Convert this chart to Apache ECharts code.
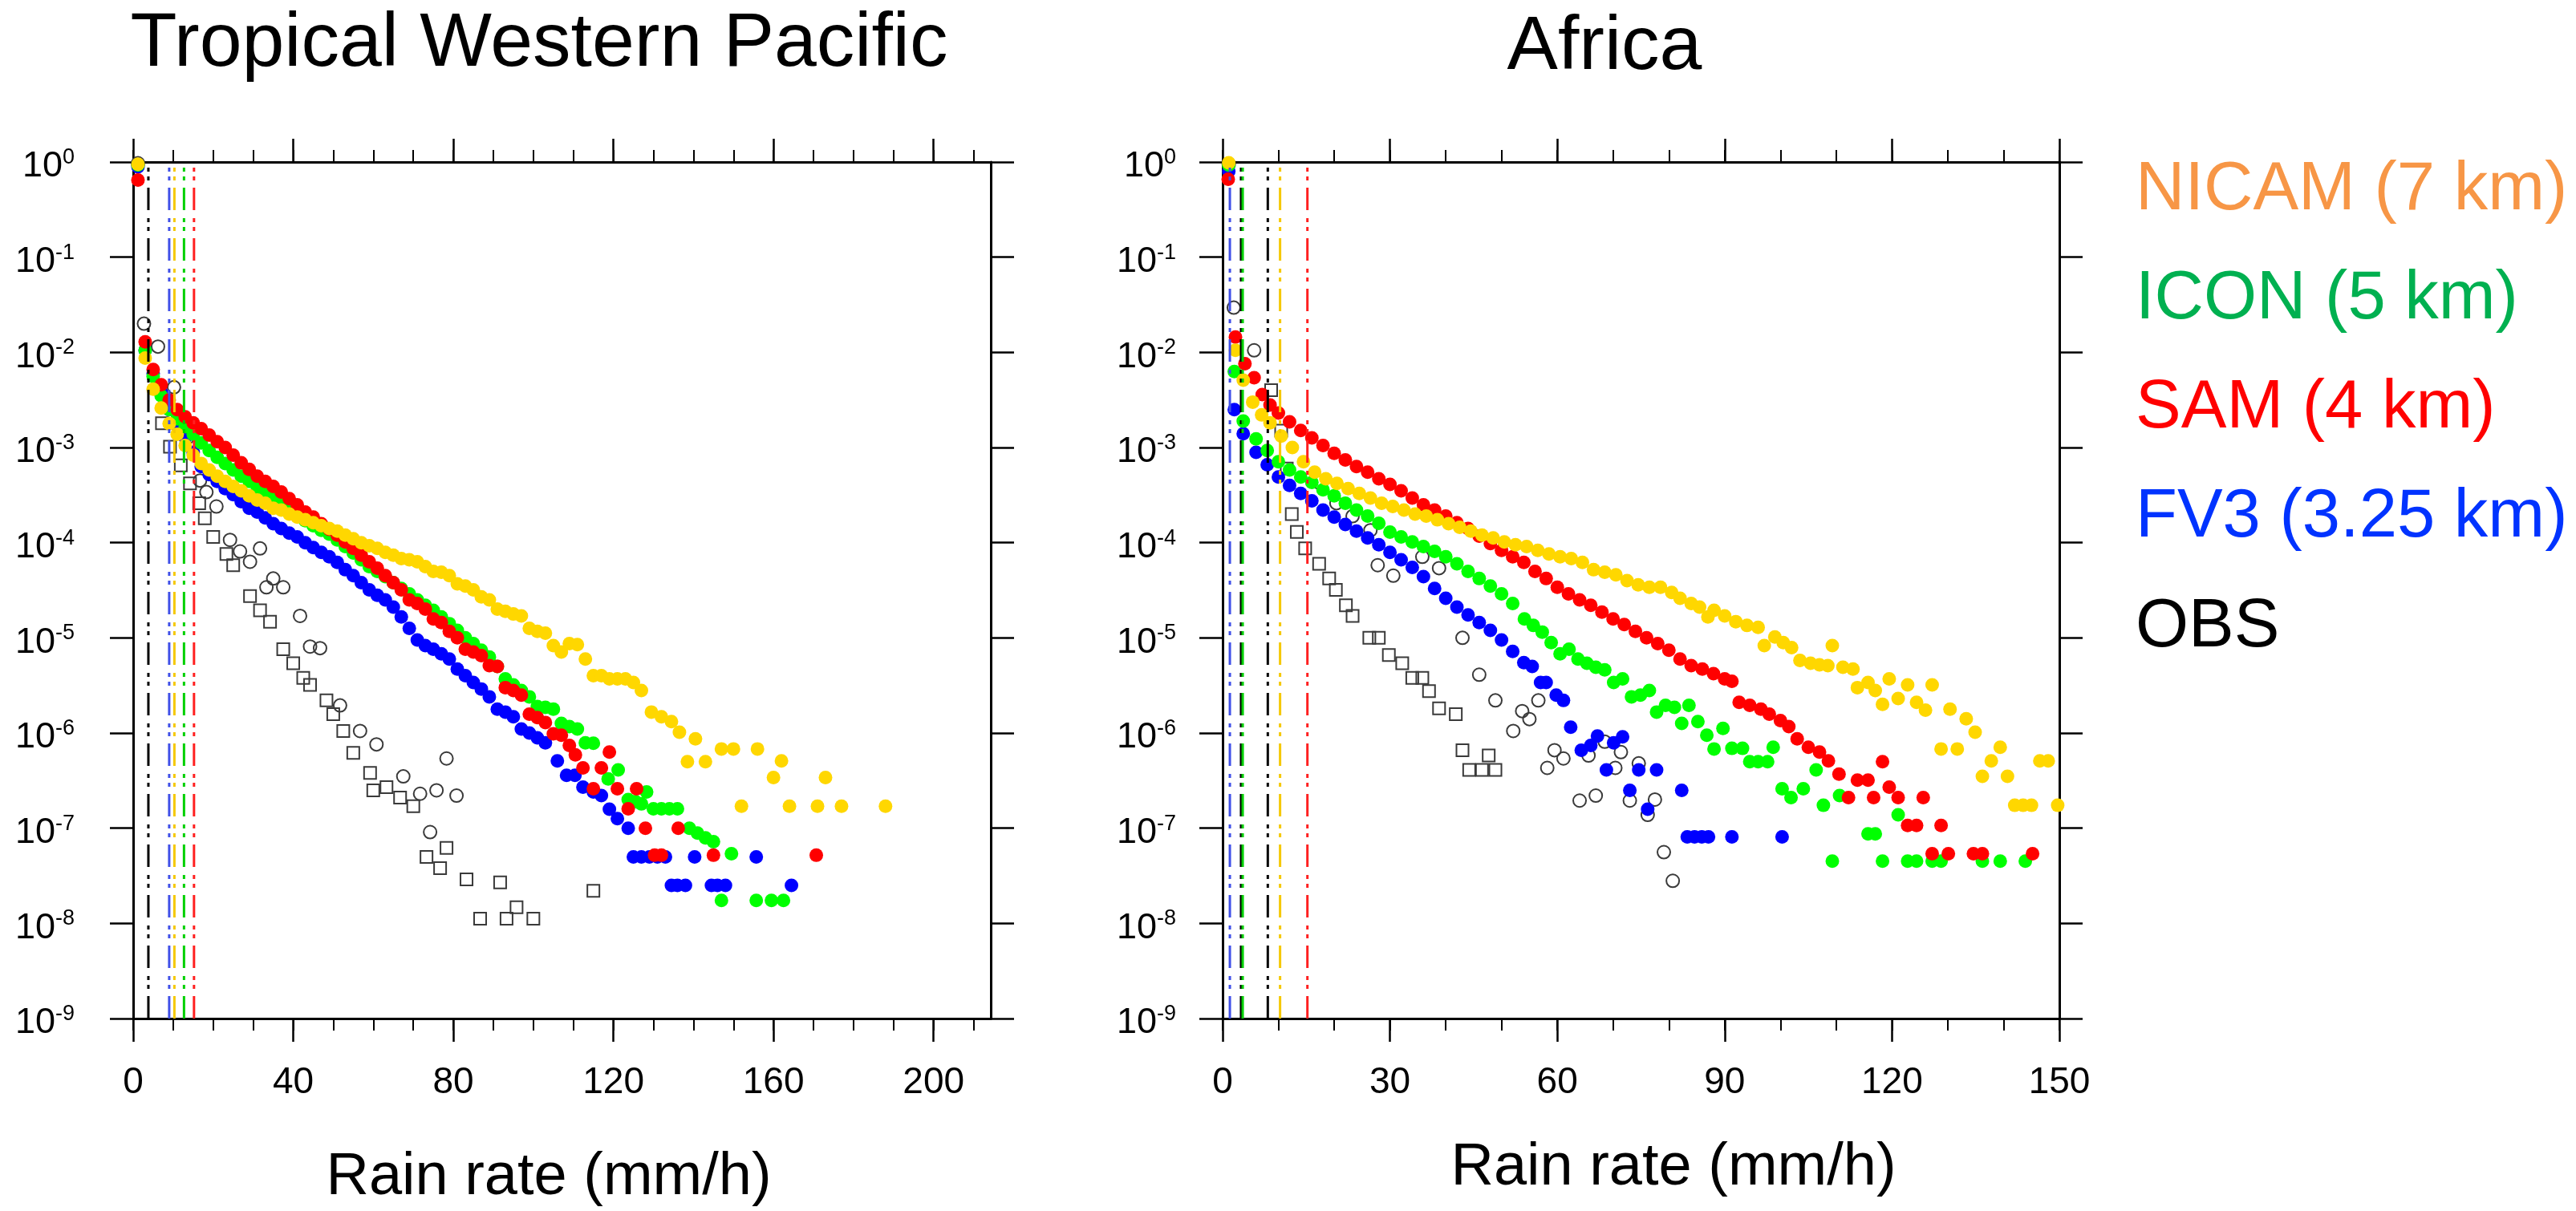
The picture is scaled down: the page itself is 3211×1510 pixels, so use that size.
<!DOCTYPE html>
<html>
<head>
<meta charset="utf-8">
<script src="https://cdn.jsdelivr.net/npm/echarts@6/dist/echarts.min.js"></script>
<style>html,body{margin:0;padding:0;background:#fff}#c{width:3211px;height:1510px}</style>
</head>
<body>
<div id="c"></div>
<script>
// ---------------- DATA ----------------
const panelTitles = ['Tropical Western Pacific', 'Africa'];
const xAxisTitle = 'Rain rate (mm/h)';
const legendNames = ['NICAM (7 km)', 'ICON (5 km)', 'SAM (4 km)', 'FV3 (3.25 km)', 'OBS'];

const twpTicks = [0, 40, 80, 120, 160, 200];
const twpMinorTicks = [0,10,20,30,40,50,60,70,80,90,100,110,120,130,140,150,160,170,180,190,200,210];
const afrTicks = [0, 30, 60, 90, 120, 150];
const afrMinorTicks = [0,10,20,30,40,50,60,70,80,90,100,110,120,130,140,150];

// vertical dash-dot lines [x, model]
const twpLines = [[3.8,'OBS'],[9.0,'FV3'],[10.3,'NICAM'],[12.7,'ICON'],[15.2,'SAM']];
const afrLines = [[1.3,'FV3'],[3.3,'OBS'],[3.6,'ICON'],[8.1,'OBS'],[10.3,'NICAM'],[15.2,'SAM']];

// Tropical Western Pacific  [rain rate, probability]
const twpNICAM = [[1.2,0.95],[3,8.7e-3],[5,4.1e-3],[7,2.6e-3],[9,1.78e-3],[11,1.38e-3],[13,1.05e-3],[15,8.3e-4],[17,6.8e-4],[19,5.8e-4],[21,5.0e-4],[23,4.4e-4],[25,3.9e-4],[27,3.5e-4],[29,3.1e-4],[31,2.8e-4],[33,2.6e-4],[35,2.3e-4],[37,2.2e-4],[39,2.0e-4],[41,1.86e-4],[43,1.74e-4],[45,1.62e-4],[47,1.51e-4],[49,1.41e-4],[51,1.32e-4],[53,1.2e-4],[55,1.1e-4],[57,1.0e-4],[59,9.3e-5],[61,8.7e-5],[63,7.9e-5],[65,7.4e-5],[67,6.8e-5],[69,6.6e-5],[71,6.3e-5],[73,5.6e-5],[75,5.0e-5],[77,4.9e-5],[79,4.5e-5],[81,3.7e-5],[83,3.5e-5],[85,3.2e-5],[87,2.7e-5],[89,2.5e-5],[91,2.0e-5],[93,1.9e-5],[95,1.78e-5],[97,1.7e-5],[99,1.26e-5],[101,1.17e-5],[103,1.12e-5],[105,8.3e-6],[107,7.1e-6],[109,8.7e-6],[111,8.5e-6],[113,6.0e-6],[115,4.0e-6],[117,4.0e-6],[119,3.7e-6],[121,3.7e-6],[123,3.7e-6],[125,3.4e-6],[127,2.8e-6],[129.5,1.66e-6],[132,1.48e-6],[134.5,1.32e-6],[136.5,1.02e-6],[138.5,5.0e-7],[140.5,8.7e-7],[143,5.0e-7],[147,6.8e-7],[150,6.8e-7],[152,1.7e-7],[156,6.8e-7],[160,3.4e-7],[162,5.1e-7],[164,1.7e-7],[171,1.7e-7],[173,3.4e-7],[177,1.7e-7],[188,1.7e-7]];
const twpICON = [[1.2,0.93],[3,1.05e-2],[5,5.6e-3],[7,3.5e-3],[9,2.5e-3],[11,2.0e-3],[13,1.66e-3],[15,1.38e-3],[17,1.12e-3],[19,9.3e-4],[21,7.9e-4],[23,6.8e-4],[25,5.8e-4],[27,5.0e-4],[29,4.4e-4],[31,3.8e-4],[33,3.3e-4],[35,2.9e-4],[37,2.5e-4],[39,2.2e-4],[41,1.9e-4],[43,1.7e-4],[45,1.51e-4],[47,1.35e-4],[49,1.23e-4],[51,1.07e-4],[53,9.1e-5],[55,7.8e-5],[57,6.6e-5],[59,5.6e-5],[61,5.0e-5],[63,4.4e-5],[65,3.8e-5],[67,3.3e-5],[69,2.9e-5],[71,2.5e-5],[73,2.2e-5],[75,1.95e-5],[77,1.66e-5],[79,1.41e-5],[81,1.2e-5],[83,1.0e-5],[85,8.7e-6],[87,7.4e-6],[89,6.3e-6],[91,5.0e-6],[93,3.7e-6],[95,3.2e-6],[97,2.8e-6],[99,2.4e-6],[101,1.9e-6],[103,1.86e-6],[105,1.78e-6],[107,1.26e-6],[109,1.17e-6],[111,1.1e-6],[113,7.9e-7],[115,7.8e-7],[118.7,3.3e-7],[121.2,4.1e-7],[123.7,2.0e-7],[125.5,1.9e-7],[127,1.8e-7],[128.3,2.4e-7],[130,1.6e-7],[132,1.6e-7],[134,1.6e-7],[136,1.6e-7],[139,1.0e-7],[141,8.9e-8],[143,7.9e-8],[145,7.2e-8],[147,1.74e-8],[149.5,5.4e-8],[155.7,1.74e-8],[159.5,1.74e-8],[162.5,1.74e-8]];
const twpSAM = [[1.2,0.646],[3,1.29e-2],[5,6.6e-3],[7,4.57e-3],[9,3.16e-3],[11,2.5e-3],[13,2.1e-3],[15,1.82e-3],[17,1.58e-3],[19,1.35e-3],[21,1.15e-3],[23,1.0e-3],[25,8.3e-4],[27,6.9e-4],[29,5.9e-4],[31,5.0e-4],[33,4.4e-4],[35,3.9e-4],[37,3.4e-4],[39,2.9e-4],[41,2.5e-4],[43,2.1e-4],[45,1.86e-4],[47,1.58e-4],[49,1.38e-4],[51,1.2e-4],[53,1.02e-4],[55,8.7e-5],[57,7.4e-5],[59,6.3e-5],[61,5.4e-5],[63,4.5e-5],[65,3.8e-5],[67,3.2e-5],[69,2.5e-5],[71,2.3e-5],[73,2.0e-5],[75,1.58e-5],[77,1.45e-5],[79,1.17e-5],[81,1.0e-5],[83,7.6e-6],[85,7.1e-6],[87,6.5e-6],[89,5.1e-6],[91,5.0e-6],[93,3.0e-6],[95,2.8e-6],[97,2.5e-6],[99,1.58e-6],[101,1.45e-6],[103,1.29e-6],[105,9.8e-7],[107,9.5e-7],[109,7.4e-7],[110.5,5.9e-7],[112.4,4.3e-7],[115,2.6e-7],[117,4.3e-7],[119,6.3e-7],[121,2.6e-7],[123.7,1.6e-7],[125.8,2.6e-7],[128,1.0e-7],[130.3,5.2e-8],[132,5.2e-8],[136.2,1.0e-7],[145,5.2e-8],[170.7,5.2e-8]];
const twpFV3 = [[1.2,0.89],[3,1.05e-2],[5,6.0e-3],[7,3.8e-3],[9,2.5e-3],[11,1.7e-3],[13,1.26e-3],[15,8.9e-4],[17,6.3e-4],[19,5.2e-4],[21,4.4e-4],[23,3.7e-4],[25,3.2e-4],[27,2.7e-4],[29,2.3e-4],[31,2.1e-4],[33,1.82e-4],[35,1.58e-4],[37,1.41e-4],[39,1.26e-4],[41,1.15e-4],[43,1.0e-4],[45,8.9e-5],[47,7.9e-5],[49,7.1e-5],[51,6.2e-5],[53,5.2e-5],[55,4.5e-5],[57,3.8e-5],[59,3.2e-5],[61,2.8e-5],[63,2.5e-5],[65,2.1e-5],[67,1.66e-5],[69,1.26e-5],[71,9.5e-6],[73,8.3e-6],[75,7.6e-6],[77,6.8e-6],[79,6.0e-6],[81,4.7e-6],[83,4.0e-6],[85,3.4e-6],[87,2.9e-6],[89,2.4e-6],[91,1.78e-6],[93,1.66e-6],[95,1.48e-6],[97,1.1e-6],[99,1.0e-6],[101,8.9e-7],[103,7.9e-7],[106,5.1e-7],[108.3,3.6e-7],[110.4,3.6e-7],[112.4,2.7e-7],[115,2.4e-7],[117,2.2e-7],[119,1.58e-7],[121,1.26e-7],[123.7,1.0e-7],[125,5.0e-8],[127,5.0e-8],[129,5.0e-8],[131,5.0e-8],[133,5.0e-8],[134.5,2.5e-8],[136,2.5e-8],[138,2.5e-8],[140.3,5.0e-8],[144.5,2.5e-8],[146,2.5e-8],[148,2.5e-8],[155.7,5.0e-8],[164.5,2.5e-8]];
const twpOBScircle = [[1.2,0.97],[2.7,2.0e-2],[6.2,1.15e-2],[10.2,4.3e-3],[13.5,1.26e-3],[16.7,4.5e-4],[18.3,3.4e-4],[20.8,2.4e-4],[24.2,1.07e-4],[26.7,8.1e-5],[29.2,6.3e-5],[31.7,8.7e-5],[33.3,3.4e-5],[35,4.2e-5],[37.5,3.4e-5],[41.7,1.7e-5],[44.2,8.1e-6],[46.7,7.8e-6],[51.7,1.95e-6],[56.7,1.05e-6],[60.8,7.6e-7],[67.5,3.5e-7],[71.7,2.3e-7],[74.2,9.1e-8],[75.8,2.5e-7],[78.3,5.4e-7],[80.8,2.2e-7]];
const twpOBSsquare = [[7.2,1.8e-3],[9.2,1.02e-3],[11.9,6.5e-4],[14.2,4.2e-4],[16.5,2.6e-4],[17.9,1.8e-4],[20,1.15e-4],[23.3,7.6e-5],[25,5.8e-5],[29.2,2.75e-5],[31.7,1.95e-5],[34.2,1.48e-5],[37.5,7.6e-6],[40,5.4e-6],[42.5,3.8e-6],[44.2,3.2e-6],[48.3,2.2e-6],[50,1.58e-6],[52.5,1.05e-6],[55,6.2e-7],[59.2,3.8e-7],[60,2.5e-7],[63.3,2.7e-7],[66.7,2.1e-7],[70,1.7e-7],[73.3,5.0e-8],[76.7,3.8e-8],[78.3,6.2e-8],[83.3,2.9e-8],[91.7,2.7e-8],[86.7,1.12e-8],[93.3,1.12e-8],[95.8,1.48e-8],[100,1.12e-8],[115,2.2e-8]];

// Africa
const afrNICAM = [[1.1,0.98],[2.3,1.05e-2],[3.7,5.1e-3],[5.4,3.0e-3],[7,2.2e-3],[8.5,1.82e-3],[10.5,1.32e-3],[12.5,1.0e-3],[14.5,7.1e-4],[16.5,5.5e-4],[18.5,4.7e-4],[20.5,4.2e-4],[22.5,3.7e-4],[24.5,3.3e-4],[26.5,2.95e-4],[28.5,2.6e-4],[30.5,2.4e-4],[32.5,2.2e-4],[34.5,2.0e-4],[36.5,1.9e-4],[38.5,1.74e-4],[40.5,1.58e-4],[42.5,1.45e-4],[44.5,1.32e-4],[46.5,1.2e-4],[48.5,1.12e-4],[50.5,1.02e-4],[52.5,9.5e-5],[54.5,9.1e-5],[56.5,8.3e-5],[58.5,7.6e-5],[60.5,7.1e-5],[62.5,6.8e-5],[64.5,6.2e-5],[66.5,5.2e-5],[68.5,4.9e-5],[70.5,4.6e-5],[72.5,4.0e-5],[74.5,3.6e-5],[76.5,3.4e-5],[78.5,3.4e-5],[80.5,3.0e-5],[82,2.6e-5],[84,2.3e-5],[85.5,2.1e-5],[87,1.66e-5],[88.1,1.95e-5],[90,1.7e-5],[92,1.48e-5],[94,1.35e-5],[96,1.29e-5],[97.1,8.3e-6],[99,1.02e-5],[100.5,8.9e-6],[102,7.9e-6],[103.5,5.8e-6],[105.4,5.4e-6],[107,5.2e-6],[108.5,5.1e-6],[109.3,8.3e-6],[111.2,4.9e-6],[113,4.7e-6],[113.8,3.0e-6],[115.7,3.4e-6],[117,2.8e-6],[118.3,2.0e-6],[119.5,3.7e-6],[121.1,2.3e-6],[122.8,3.2e-6],[124.4,2.1e-6],[126,1.74e-6],[127.2,3.2e-6],[128.8,6.8e-7],[130.4,1.78e-6],[131.7,6.8e-7],[133.3,1.41e-6],[134.9,1.02e-6],[136.2,3.5e-7],[137.8,5.1e-7],[139.4,7.1e-7],[140.7,3.5e-7],[142,1.74e-7],[143.5,1.74e-7],[145,1.74e-7],[146.5,5.1e-7],[148,5.1e-7],[149.7,1.74e-7]];
const afrICON = [[1.1,0.93],[2.1,6.3e-3],[3.7,1.9e-3],[6,1.23e-3],[8,9.3e-4],[10,7.1e-4],[12,5.8e-4],[14,4.9e-4],[16,4.3e-4],[18,3.6e-4],[20,3.1e-4],[22,2.6e-4],[24,2.2e-4],[26,1.9e-4],[28,1.6e-4],[30,1.29e-4],[32,1.15e-4],[34,1.02e-4],[36,9.1e-5],[38,8.1e-5],[40,7.1e-5],[42,6.0e-5],[44,5.0e-5],[46,4.2e-5],[48,3.5e-5],[50,2.9e-5],[52,2.3e-5],[54.1,1.58e-5],[55.7,1.35e-5],[57.3,1.15e-5],[58.9,8.9e-6],[60.5,6.8e-6],[62.1,7.6e-6],[63.7,6.0e-6],[65.3,5.4e-6],[66.9,4.9e-6],[68.5,4.6e-6],[70.1,3.4e-6],[71.7,3.7e-6],[73.3,2.4e-6],[74.9,2.5e-6],[76.5,2.8e-6],[77.8,1.66e-6],[79.4,1.95e-6],[81,1.86e-6],[82.3,1.26e-6],[83.6,1.95e-6],[85.2,1.32e-6],[86.8,9.5e-7],[88.1,6.8e-7],[89.7,1.12e-6],[91.3,6.9e-7],[93.2,6.9e-7],[94.5,5.0e-7],[96,5.0e-7],[97.7,5.0e-7],[98.7,7.1e-7],[100.3,2.6e-7],[101.9,2.1e-7],[104.1,2.6e-7],[106.4,4.1e-7],[107.7,1.74e-7],[109.3,4.5e-8],[110.6,2.2e-7],[115.7,8.7e-8],[117,8.7e-8],[118.3,4.5e-8],[121.1,1.38e-7],[122.8,4.5e-8],[124.4,4.5e-8],[127.2,4.5e-8],[128.8,4.5e-8],[136.2,4.5e-8],[139.4,4.5e-8],[143.9,4.5e-8]];
const afrSAM = [[1.0,0.66],[2.3,1.45e-2],[4.0,7.6e-3],[5.65,5.4e-3],[7.1,3.6e-3],[8.5,2.8e-3],[10,2.3e-3],[12,1.86e-3],[14,1.51e-3],[16,1.26e-3],[18,1.05e-3],[20,8.7e-4],[22,7.4e-4],[24,6.3e-4],[26,5.5e-4],[28,4.7e-4],[30,4.1e-4],[32,3.5e-4],[34,2.95e-4],[36,2.5e-4],[38,2.2e-4],[40,1.9e-4],[42,1.62e-4],[44,1.41e-4],[46,1.17e-4],[48,9.8e-5],[50,8.3e-5],[52,7.1e-5],[54,6.2e-5],[56,5.0e-5],[58,4.2e-5],[60,3.4e-5],[62,2.9e-5],[64,2.5e-5],[66,2.2e-5],[68,1.86e-5],[70,1.58e-5],[72,1.38e-5],[74,1.17e-5],[76,1.0e-5],[78,8.7e-6],[80,7.4e-6],[82,6.0e-6],[84,5.1e-6],[86,4.7e-6],[88,4.2e-6],[90,3.7e-6],[91.3,3.5e-6],[92.6,2.1e-6],[94.5,1.95e-6],[96.5,1.78e-6],[98,1.58e-6],[100,1.35e-6],[101.5,1.17e-6],[103,8.7e-7],[105,7.1e-7],[107,6.3e-7],[108.6,5.1e-7],[110.5,3.7e-7],[112.2,2.1e-7],[113.8,3.2e-7],[115.7,3.2e-7],[116.7,2.1e-7],[118.3,5.0e-7],[119.5,2.7e-7],[121.1,2.1e-7],[122.8,1.07e-7],[124.4,1.07e-7],[125.6,2.1e-7],[127.2,5.4e-8],[128.8,1.07e-7],[130.1,5.4e-8],[134.6,5.4e-8],[136.2,5.4e-8],[145.2,5.4e-8]];
const afrFV3 = [[1.1,0.8],[2.1,2.5e-3],[3.7,1.4e-3],[6,8.9e-4],[8,6.6e-4],[10,4.9e-4],[12,4.0e-4],[14,3.3e-4],[16,2.75e-4],[18,2.2e-4],[20,1.86e-4],[22,1.55e-4],[24,1.32e-4],[26,1.12e-4],[28,9.5e-5],[30,7.9e-5],[32,6.6e-5],[34,5.5e-5],[36,4.4e-5],[38,3.3e-5],[40,2.6e-5],[42,2.1e-5],[44,1.74e-5],[46,1.45e-5],[48,1.2e-5],[50,9.5e-6],[52,7.2e-6],[54,5.5e-6],[55.5,5.0e-6],[57,3.4e-6],[58,3.4e-6],[59.8,2.5e-6],[61.1,2.2e-6],[62.4,1.15e-6],[64.3,6.6e-7],[66,7.4e-7],[67.2,9.3e-7],[68.8,4.1e-7],[70.1,7.9e-7],[71.7,9.1e-7],[73,2.5e-7],[74.6,4.1e-7],[76.2,1.58e-7],[77.8,4.1e-7],[82.3,2.5e-7],[83.3,8.1e-8],[84.6,8.1e-8],[85.9,8.1e-8],[87.1,8.1e-8],[91.3,8.1e-8],[100.3,8.1e-8]];
const afrOBScircle = [[1.1,0.95],[2.0,2.95e-2],[5.65,1.05e-2],[17.2,4.3e-4],[20.4,2.6e-4],[23.3,1.9e-4],[26.5,1.35e-4],[27.8,5.8e-5],[30.6,4.5e-5],[35.8,7.1e-5],[38.8,5.4e-5],[43,1.0e-5],[46,4.1e-6],[48.9,2.2e-6],[52.1,1.05e-6],[53.7,1.7e-6],[55,1.4e-6],[56.6,2.2e-6],[58.2,4.3e-7],[59.5,6.6e-7],[61.1,5.4e-7],[64,1.95e-7],[65.6,5.8e-7],[66.9,2.2e-7],[68.5,8.1e-7],[70.4,4.3e-7],[71.4,6.3e-7],[73,1.95e-7],[74.6,4.8e-7],[76.2,1.38e-7],[77.5,2.0e-7],[79.1,5.6e-8],[80.7,2.8e-8]];
const afrOBSsquare = [[8.7,4.0e-3],[10.5,1.5e-3],[11.5,6.0e-4],[12.4,2.0e-4],[13.3,1.3e-4],[14.8,8.7e-5],[17.3,6.0e-5],[19.1,4.2e-5],[20.3,3.2e-5],[22.1,2.2e-5],[23.3,1.7e-5],[26.3,1.0e-5],[28,1.0e-5],[29.8,6.6e-6],[32.2,5.4e-6],[34,3.8e-6],[35.8,3.8e-6],[37,2.75e-6],[38.8,1.82e-6],[41.8,1.58e-6],[43,6.6e-7],[44.2,4.1e-7],[46.5,4.1e-7],[47.7,5.8e-7],[48.9,4.1e-7]];

// ---------------- STYLE ----------------
const FONT = '"Liberation Sans", Arial, Helvetica, sans-serif';
const markerColor = {NICAM:'#FFD700', ICON:'#00FF00', SAM:'#FF0000', FV3:'#0000FF', OBS:'#000000'};
const lineColor = {NICAM:'#F5C800', ICON:'#00D000', SAM:'#FF2020', FV3:'#4050E8', OBS:'#000000'};
const legendColor = ['#F79646', '#00B050', '#FF0000', '#0033FF', '#000000'];

function makeXAxes(grid, max, majors, minors) {
  const common = {gridIndex: grid, type: 'value', min: 0, max: max, splitLine: {show: false}, axisLabel: {show: false}};
  const tickStyle = {color: '#000', width: 2.5};
  return [
    Object.assign({}, common, {position: 'bottom',
      axisLine: {show: true, onZero: false, lineStyle: {color: '#000', width: 3}},
      axisTick: {show: true, length: 29, customValues: majors, lineStyle: tickStyle},
      axisLabel: {show: true, customValues: majors, margin: 57, fontSize: 46, fontFamily: FONT, color: '#000'}}),
    Object.assign({}, common, {position: 'bottom',
      axisLine: {show: false, onZero: false},
      axisTick: {show: true, length: 15, customValues: minors, lineStyle: {color: '#000', width: 2}}}),
    Object.assign({}, common, {position: 'top',
      axisLine: {show: true, onZero: false, lineStyle: {color: '#000', width: 3}},
      axisTick: {show: true, length: 29, customValues: majors, lineStyle: tickStyle}}),
    Object.assign({}, common, {position: 'top',
      axisLine: {show: false, onZero: false},
      axisTick: {show: true, length: 15, customValues: minors, lineStyle: {color: '#000', width: 2}}})
  ];
}

function makeYAxes(grid, labelMargin) {
  const common = {gridIndex: grid, type: 'log', logBase: 10, min: 1e-9, max: 1, splitNumber: 9,
    splitLine: {show: false}, minorTick: {show: false},
    axisLine: {show: true, onZero: false, lineStyle: {color: '#000', width: 3}},
    axisTick: {show: true, length: 29, lineStyle: {color: '#000', width: 2.5}}};
  return [
    Object.assign({}, common, {position: 'left',
      axisLabel: {show: true, margin: labelMargin, padding: [12, 0, 0, 0],
        formatter: function (v) { return '{b|10}{s|' + Math.round(Math.log10(v)) + '}'; },
        rich: {
          b: {fontSize: 45, lineHeight: 50, fontFamily: FONT, color: '#000'},
          s: {fontSize: 27, lineHeight: 22, verticalAlign: 'top', fontFamily: FONT, color: '#000'}
        }}}),
    Object.assign({}, common, {position: 'right', axisLabel: {show: false}})
  ];
}

function scatterSeries(data, grid, model) {
  return {type: 'scatter', xAxisIndex: grid * 4, yAxisIndex: grid * 2, data: data,
    symbol: 'circle', symbolSize: 17, itemStyle: {color: markerColor[model], opacity: 1},
    silent: true, animation: false};
}
function obsSeries(data, grid, symbol, size) {
  return {type: 'scatter', xAxisIndex: grid * 4, yAxisIndex: grid * 2, data: data,
    symbol: symbol, symbolSize: size,
    itemStyle: {color: 'rgba(255,255,255,0)', borderColor: '#3a3a3a', borderWidth: 2, opacity: 1},
    silent: true, animation: false};
}
function vlineSeries(item, grid) {
  const x = item[0];
  return {type: 'line', xAxisIndex: grid * 4, yAxisIndex: grid * 2,
    data: [[x, 1e-9], [x, 1]], symbol: 'none', z: 5,
    lineStyle: {color: lineColor[item[1]], width: 3, type: [28, 9, 5, 6, 5, 10]},
    silent: true, animation: false};
}

const series = [];
[[0, twpOBSsquare, twpOBScircle, twpFV3, twpICON, twpSAM, twpNICAM, twpLines],
 [1, afrOBSsquare, afrOBScircle, afrFV3, afrICON, afrSAM, afrNICAM, afrLines]].forEach(function (p) {
  const g = p[0];
  series.push(obsSeries(p[1], g, 'rect', 15));
  series.push(obsSeries(p[2], g, 'circle', 16));
  series.push(scatterSeries(p[3], g, 'FV3'));
  series.push(scatterSeries(p[4], g, 'ICON'));
  series.push(scatterSeries(p[5], g, 'SAM'));
  series.push(scatterSeries(p[6], g, 'NICAM'));
  p[7].forEach(function (l) { series.push(vlineSeries(l, g)); });
});

const graphics = [
  {type: 'text', x: 672, y: 56, style: {text: panelTitles[0], font: '95px ' + FONT, fill: '#000', align: 'center', verticalAlign: 'middle'}},
  {type: 'text', x: 2000, y: 60, style: {text: panelTitles[1], font: '95px ' + FONT, fill: '#000', align: 'center', verticalAlign: 'middle'}},
  {type: 'text', x: 684, y: 1469, style: {text: xAxisTitle, font: '74px ' + FONT, fill: '#000', align: 'center', verticalAlign: 'middle'}},
  {type: 'text', x: 2086, y: 1457, style: {text: xAxisTitle, font: '74px ' + FONT, fill: '#000', align: 'center', verticalAlign: 'middle'}}
];
const legendY = [238, 374, 510, 646, 783];
legendNames.forEach(function (n, i) {
  graphics.push({type: 'text', x: 2662, y: legendY[i], style: {text: n, font: '85px ' + FONT, fill: legendColor[i], align: 'left', verticalAlign: 'middle'}});
});

const chart = echarts.init(document.getElementById('c'), null, {renderer: 'canvas'});
chart.setOption({
  animation: false,
  backgroundColor: '#ffffff',
  grid: [
    {left: 166, top: 202, width: 1069, height: 1068, containLabel: false, outerBoundsMode: 'none'},
    {left: 1524, top: 202, width: 1043, height: 1068, containLabel: false, outerBoundsMode: 'none'}
  ],
  xAxis: makeXAxes(0, 214.3, twpTicks, twpMinorTicks).concat(makeXAxes(1, 150, afrTicks, afrMinorTicks)),
  yAxis: makeYAxes(0, 73).concat(makeYAxes(1, 58)),
  series: series,
  graphic: graphics
});
</script>
</body>
</html>
